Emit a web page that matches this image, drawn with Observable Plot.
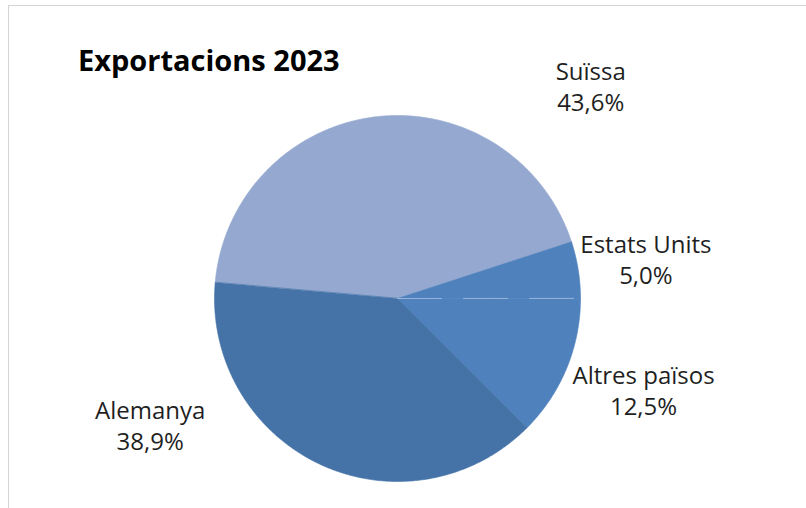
<!DOCTYPE html>
<html>
<head>
<meta charset="utf-8">
<script src="https://cdn.jsdelivr.net/npm/d3@7"></script>
<script src="https://cdn.jsdelivr.net/npm/@observablehq/plot@0.6"></script>
<style>
  html, body { margin: 0; padding: 0; background: #fff; }
  #wrap { position: relative; width: 806px; height: 508px; overflow: hidden; font-family: "Open Sans", "Noto Sans", sans-serif; }
  #frame { position: absolute; left: 8px; top: 5px; right: -2px; bottom: -2px; border-left: 1px solid #d4d4d4; border-top: 1px solid #d4d4d4; }
  #title { position: absolute; left: 78px; top: 40px; margin: 0; font-size: 29px; line-height: normal; font-weight: 700; color: #000; white-space: nowrap; }
  #chart { position: absolute; left: 0; top: 0; }
</style>
</head>
<body>
<div id="wrap">
  <div id="frame"></div>
  <div id="chart"></div>
  <h2 id="title">Exportacions 2023</h2>
</div>
<script>
// ---- data ----
const countries = ["Suïssa", "Estats Units", "Altres països", "Alemanya"];
const shares = [43.6, 5.0, 12.5, 38.9];
const shareLabels = ["43,6%", "5,0%", "12,5%", "38,9%"];

// ---- layout / style ----
const colors = ["#95a9d0", "#4f81bd", "#4f81bd", "#4573a7"];
const startDeg = -85;               // clockwise from 12 o'clock
const labelAngleDeg = [42.6, 81.6, 111.0, 242.4];
const labelRadius = [1.56, 1.372, 1.44, 1.525];

const rad = d => d * Math.PI / 180;
const pie = d3.pie().sort(null).value(d => d.share).startAngle(rad(startDeg)).endAngle(rad(startDeg + 360));
const rows = countries.map((c, i) => ({name: c, share: shares[i], label: shareLabels[i], color: colors[i], i}));
const arcs = pie(rows);

// polygon points for each slice (unit circle in data space)
const pts = [];
arcs.forEach(a => {
  pts.push({name: a.data.name, x: 0, y: 0});
  const n = Math.max(2, Math.ceil((a.endAngle - a.startAngle) / rad(0.5)));
  for (let k = 0; k <= n; k++) {
    const t = a.startAngle + (a.endAngle - a.startAngle) * k / n;
    pts.push({name: a.data.name, x: Math.sin(t), y: Math.cos(t)});
  }
});

// faint separator between Estats Units and Altres països
const sepAngle = arcs[1].endAngle;
const sep = [{x: 0, y: 0}, {x: Math.sin(sepAngle), y: Math.cos(sepAngle)}];

const labelData = rows.map((r, i) => ({
  text: r.name + "\n" + r.label,
  x: labelRadius[i] * Math.sin(rad(labelAngleDeg[i])),
  y: labelRadius[i] * Math.cos(rad(labelAngleDeg[i]))
}));

const chart = Plot.plot({
  width: 806,
  height: 508,
  marginLeft: 214,
  marginRight: 226,
  marginTop: 115,
  marginBottom: 27,
  x: {domain: [-1, 1], axis: null},
  y: {domain: [-1, 1], axis: null},
  color: {domain: countries, range: colors},
  style: {background: "transparent", overflow: "visible"},
  marks: [
    Plot.line(pts, {x: "x", y: "y", z: "name", fill: "name", stroke: "name", strokeWidth: 0.6, curve: "linear-closed"}),
    Plot.line(sep, {x: "x", y: "y", stroke: "#a9bfe0", strokeWidth: 1, strokeOpacity: 0.8, strokeDasharray: "44,22"}),
    Plot.text(labelData, {x: "x", y: "y", text: "text", fontSize: 24, lineHeight: 1.28, dy: -3, fill: "#1f1f1f", textAnchor: "middle", lineAnchor: "middle", fontFamily: "Open Sans"})
  ]
});
document.getElementById("chart").appendChild(chart);
</script>
</body>
</html>
